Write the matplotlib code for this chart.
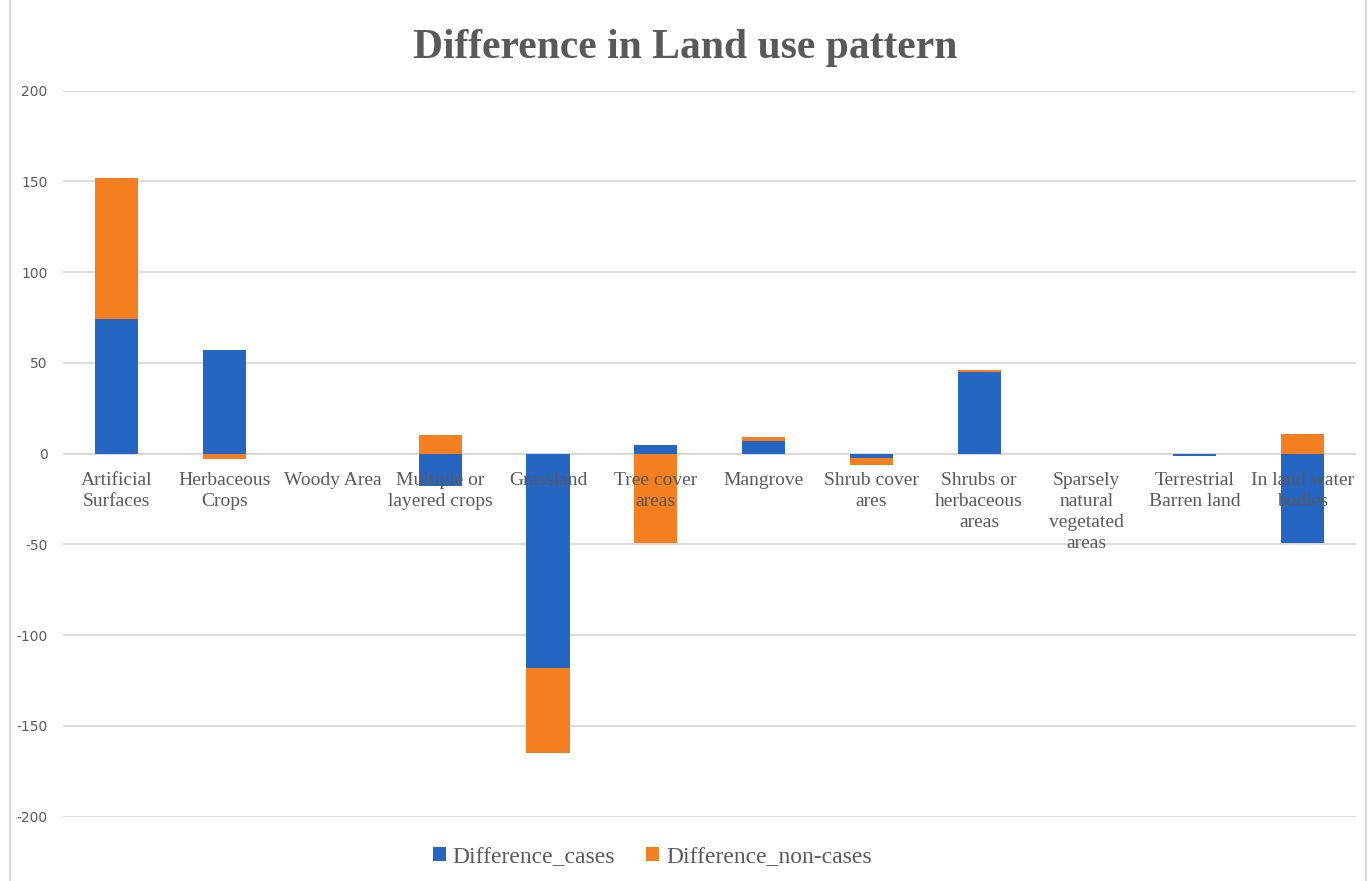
import matplotlib.pyplot as plt
import numpy as np
from matplotlib.patches import Rectangle

categories = ["Artificial\nSurfaces", "Herbaceous\nCrops", "Woody Area",
              "Multiple or\nlayered crops", "Grassland", "Tree cover\nareas",
              "Mangrove", "Shrub cover\nares", "Shrubs or\nherbaceous\nareas",
              "Sparsely\nnatural\nvegetated\nareas", "Terrestrial\nBarren land",
              "In land water\nbodies"]
diff_cases = [74, 57, 0, -18, -118, 5, 7, -2.5, 45, 0, -1, -49]
diff_noncases = [78, -3, 0, 10.5, -47, -49, 2, -3.5, 1, 0, 0, 11]
yticks = [-200, -150, -100, -50, 0, 50, 100, 150, 200]

blue = "#2566c2"
orange = "#f47f20"
grey_text = "#595959"

fig = plt.figure(figsize=(13.7, 8.81), dpi=100)
ax = fig.add_axes([0.046, 0.073, 0.944, 0.824])

x = np.arange(len(categories))
cases = np.array(diff_cases, dtype=float)
noncases = np.array(diff_noncases, dtype=float)

# positives and negatives stack separately, like a spreadsheet stacked column
ax.bar(x, cases, width=0.4, color=blue, label="Difference_cases", zorder=3)
bottom = np.where((noncases >= 0) == (cases >= 0), cases, 0)
bottom = np.where((noncases < 0) & (cases > 0), 0, bottom)
ax.bar(x, noncases, width=0.4, bottom=bottom, color=orange,
       label="Difference_non-cases", zorder=3)

ax.set_ylim(-200, 200)
ax.set_xlim(-0.5, len(categories) - 0.5)
ax.set_yticks(yticks)
ax.set_yticklabels([str(v) for v in yticks], color=grey_text, fontsize=10)
ax.tick_params(axis="y", length=0, pad=11)
ax.set_xticks([])
ax.grid(axis="y", color="#d9d9d9", linewidth=1.3, zorder=0)
ax.axhline(0, color="#d9d9d9", linewidth=1.3, zorder=2)
for s in ax.spines.values():
    s.set_visible(False)

# category names sit just under the zero line
for xi, name in zip(x, categories):
    ax.text(xi, -10, name, ha="center", va="top", fontsize=14,
            family="Liberation Serif", color=grey_text, linespacing=1.3, zorder=4)

fig.text(0.5, 0.946, "Difference in Land use pattern", ha="center", va="center",
         fontsize=30, fontweight="bold", family="Liberation Serif", color=grey_text)

leg = fig.legend(loc="center", bbox_to_anchor=(0.476, 0.027), ncol=2, frameon=False,
                 prop={"family": "Liberation Serif", "size": 17},
                 handlelength=0.55, handleheight=0.55, handletextpad=0.3,
                 columnspacing=1.3)
for t in leg.get_texts():
    t.set_color(grey_text)

fig.patches.append(Rectangle((0.007, -0.01), 0.99, 1.02, transform=fig.transFigure,
                             fill=False, edgecolor="#d9d9d9", linewidth=1.5))

fig.savefig("out.png", dpi=100)
